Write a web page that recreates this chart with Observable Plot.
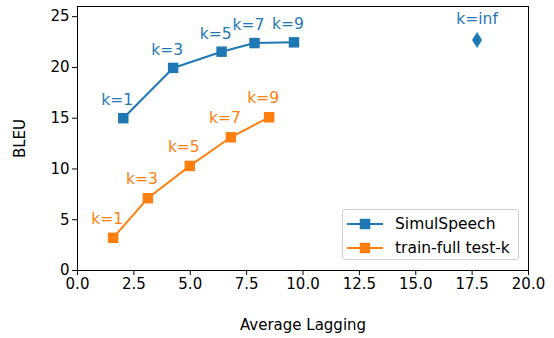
<!DOCTYPE html>
<html>
<head>
<meta charset="utf-8">
<script src="https://cdn.jsdelivr.net/npm/d3@7"></script>
<script src="https://cdn.jsdelivr.net/npm/@observablehq/plot@0.6"></script>
<style>
  html, body { margin: 0; padding: 0; background: #fff; }
  #wrap { position: relative; width: 554px; height: 338px; font-family: "DejaVu Sans", sans-serif; }
  #legend { position: absolute; left: 342px; top: 209px; width: 177px; height: 51px;
    border: 1px solid #d0d0d0; border-radius: 3px; background: rgba(255,255,255,0.8); box-sizing: border-box; }
  .row { position: absolute; left: 4px; height: 20px; display: flex; align-items: center; font-size: 15.5px; color: #000; white-space: nowrap; }
  .row svg { margin-right: 12px; }
</style>
</head>
<body>
<div id="wrap"></div>
<script>
const kLabels = ["k=1", "k=3", "k=5", "k=7", "k=9"];
const simulAL = [2.03, 4.24, 6.39, 7.85, 9.6];
const simulBLEU = [15.0, 19.95, 21.55, 22.4, 22.47];
const trainAL = [1.58, 3.12, 4.98, 6.8, 8.5];
const trainBLEU = [3.22, 7.12, 10.3, 13.12, 15.09];
const infLabel = ["k=inf"];
const infAL = [17.72];
const infBLEU = [22.7];
const seriesNames = ["SimulSpeech", "train-full test-k"];
const seriesColors = ["#1f77b4", "#ff7f0e"];
const xTicks = [0, 2.5, 5, 7.5, 10, 12.5, 15, 17.5, 20];
const yTicks = [0, 5, 10, 15, 20, 25];

const simul = kLabels.map((k, i) => ({k, x: simulAL[i], y: simulBLEU[i]}));
const train = kLabels.map((k, i) => ({k, x: trainAL[i], y: trainBLEU[i]}));
const inf = infLabel.map((k, i) => ({k, x: infAL[i], y: infBLEU[i]}));

const thinDiamond = {
  draw(context, size) {
    const w = 5, h = 8;
    context.moveTo(0, -h);
    context.lineTo(w, 0);
    context.lineTo(0, h);
    context.lineTo(-w, 0);
    context.closePath();
  }
};

const fs = 15;
const chart = Plot.plot({
  width: 554,
  height: 338,
  marginLeft: 77,
  marginRight: 26,
  marginTop: 6,
  marginBottom: 68,
  style: {fontFamily: "DejaVu Sans, sans-serif", fontSize: fs + "px", color: "#000", background: "#fff"},
  x: {domain: [0, 20]},
  y: {domain: [0, 26]},
  marks: [
    Plot.axisX({ticks: xTicks, tickFormat: d => d.toFixed(1), tickSize: 5, tickPadding: 3, fontSize: fs,
      label: "Average Lagging", labelAnchor: "center", labelArrow: "none", labelOffset: 59}),
    Plot.axisY({ticks: yTicks, tickFormat: d => String(d), tickSize: 5, tickPadding: 3, fontSize: fs,
      label: "BLEU", labelAnchor: "center", labelArrow: "none", labelOffset: 63}),
    Plot.line(simul, {x: "x", y: "y", stroke: seriesColors[0], strokeWidth: 2}),
    Plot.line(train, {x: "x", y: "y", stroke: seriesColors[1], strokeWidth: 2}),
    Plot.dot(simul, {x: "x", y: "y", symbol: "square", r: 5.9, fill: seriesColors[0], stroke: "none"}),
    Plot.dot(train, {x: "x", y: "y", symbol: "square", r: 5.9, fill: seriesColors[1], stroke: "none"}),
    Plot.dot(inf, {x: "x", y: "y", symbol: thinDiamond, fill: seriesColors[0], stroke: "none"}),
    Plot.text(simul, {x: "x", y: "y", text: "k", dx: -6, dy: -18, fill: seriesColors[0], fontSize: 15.5}),
    Plot.text(train, {x: "x", y: "y", text: "k", dx: -6, dy: -19, fill: seriesColors[1], fontSize: 15.5}),
    Plot.text(inf, {x: "x", y: "y", text: "k", dx: 0, dy: -21, fill: seriesColors[0], fontSize: 15.5}),
    Plot.frame({stroke: "#000", strokeWidth: 1})
  ]
});

const wrap = document.getElementById("wrap");
wrap.appendChild(chart);

const legend = document.createElement("div");
legend.id = "legend";
seriesNames.forEach((name, i) => {
  const row = document.createElement("div");
  row.className = "row";
  row.style.top = (4 + i * 24) + "px";
  const ns = "http://www.w3.org/2000/svg";
  const sw = document.createElementNS(ns, "svg");
  sw.setAttribute("width", 36); sw.setAttribute("height", 12);
  const ln = document.createElementNS(ns, "line");
  ln.setAttribute("x1", 0); ln.setAttribute("x2", 36); ln.setAttribute("y1", 6); ln.setAttribute("y2", 6);
  ln.setAttribute("stroke", seriesColors[i]); ln.setAttribute("stroke-width", 2);
  const rc = document.createElementNS(ns, "rect");
  rc.setAttribute("x", 12.75); rc.setAttribute("y", 0.75); rc.setAttribute("width", 10.5); rc.setAttribute("height", 10.5);
  rc.setAttribute("fill", seriesColors[i]);
  sw.appendChild(ln); sw.appendChild(rc);
  row.appendChild(sw);
  const t = document.createElement("span");
  t.textContent = name;
  row.appendChild(t);
  legend.appendChild(row);
});
wrap.appendChild(legend);
</script>
</body>
</html>
